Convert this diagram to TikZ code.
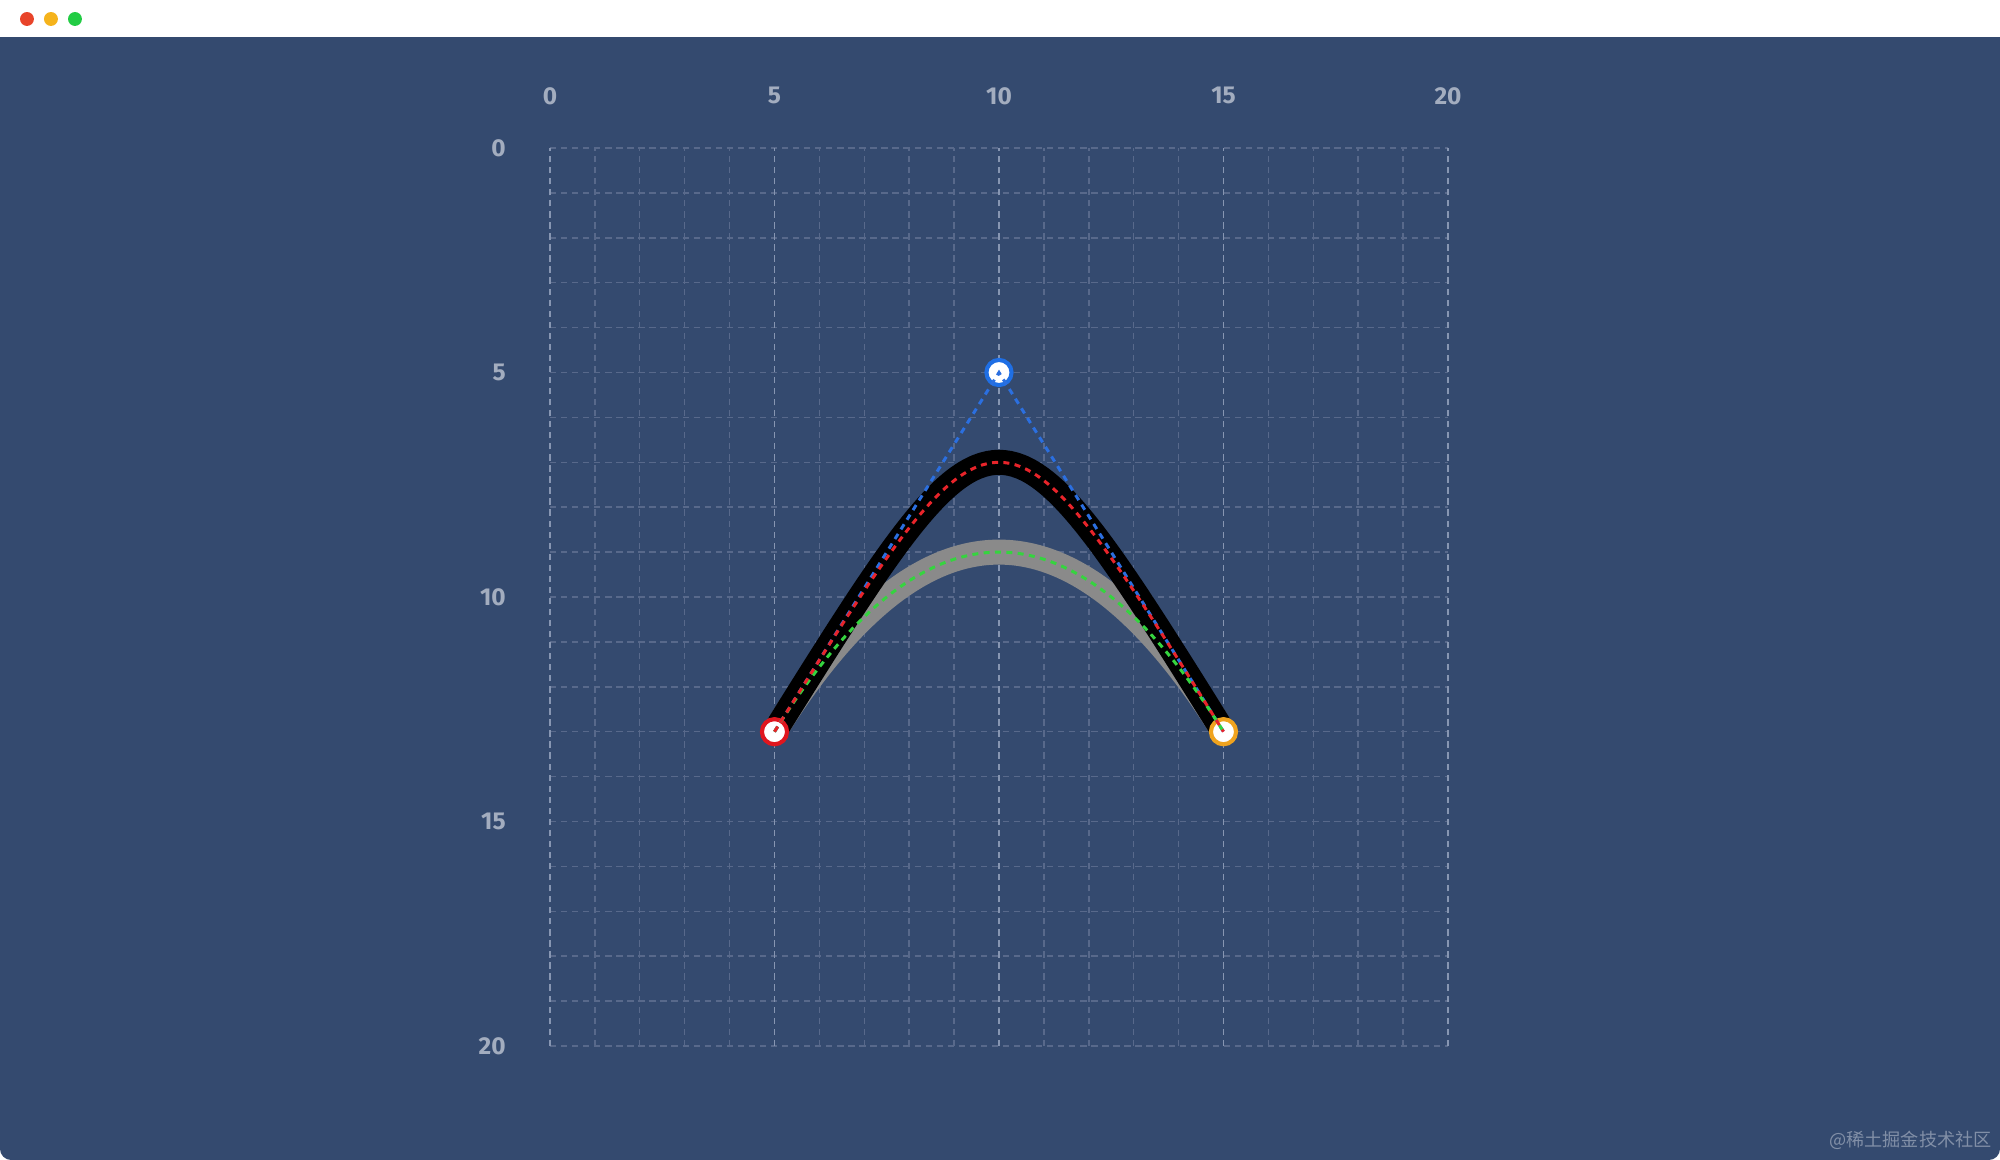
\documentclass[tikz,border=0pt]{standalone}
\usepackage{fontspec}
\setsansfont{Fira Sans}
\newfontfamily\cjk{Noto Sans CJK SC}
\usetikzlibrary{calc}
\definecolor{bgblue}{HTML}{344A6F}
\definecolor{gridminor}{HTML}{58698B}
\definecolor{gridmajor}{HTML}{8796B2}
\definecolor{labelgray}{HTML}{A3ADBF}
\definecolor{ptred}{HTML}{E0161E}
\definecolor{ptblue}{HTML}{1F6FE5}
\definecolor{ptorange}{HTML}{F0A31E}
\definecolor{dashred}{HTML}{E8242A}
\definecolor{dashgreen}{HTML}{35D43F}
\definecolor{dashblue}{HTML}{2B6FE0}
\definecolor{curvegray}{HTML}{8A8A8A}
\definecolor{macred}{HTML}{E8442A}
\definecolor{macyellow}{HTML}{F5B31C}
\definecolor{macgreen}{HTML}{22CC44}
\tikzset{
  gridline/.style={draw=gridminor, line width=0.9pt, dash pattern=on 4pt off 3pt},
  majorline/.style={draw=gridmajor, line width=0.9pt, dash pattern=on 4pt off 3pt},
  axislabel/.style={text=labelgray, font=\sffamily\fontsize{15.5}{18}\selectfont\bfseries, inner sep=0pt},
  thickcurve/.style={line width=0.557cm},
  dashcurve/.style={line width=1.9pt, dash pattern=on 3.8pt off 3.4pt},
  ctrlpoint/.style={circle, line width=2.6pt, fill=white, minimum size=0.56cm, inner sep=0pt},
  macdot/.style={circle, minimum size=0.31cm, inner sep=0pt}
}
\begin{document}
\begin{tikzpicture}[x=1cm, y=-1cm]
\path[use as bounding box, fill=white] (-12.249,-3.296) rectangle (32.294,22.539);
\fill[bgblue, rounded corners=0.25cm] (-12.249,-2.9) rectangle (32.294,22.539);
\fill[white] (-12.249,-3.296) rectangle (32.294,-2.472);
% window buttons
\node[macdot, fill=macred] (btnclose) at (-11.648,-2.873) {};
\node[macdot, fill=macyellow] (btnmin) at (-11.114,-2.873) {};
\node[macdot, fill=macgreen] (btnmax) at (-10.579,-2.873) {};
% grid
\draw[gridline] (0,0) grid (20,20);
\draw[majorline] (0,0) grid[step=5] (20,20);
\foreach \v in {0,5,10,15,20}{
  \node[axislabel] (xl\v) at (\v,-1.16) {\v};
  \node[axislabel, anchor=east] (yl\v) at (-0.98,\v) {\v};
}
% points
\coordinate (p0) at (5,13);
\coordinate (p1) at (10,5);
\coordinate (p2) at (15,13);
\coordinate (q1) at ($(p0)!2/3!(p1)$);
\coordinate (q2) at ($(p2)!2/3!(p1)$);
% curves
\draw[thickcurve, curvegray] (p0) .. controls (q1) and (q2) .. (p2);
\draw[thickcurve, black] (p0) .. controls (p1) and (p1) .. (p2);
\node[ctrlpoint, draw=ptred] (n0) at (p0) {};
\node[ctrlpoint, draw=ptblue] (n1) at (p1) {};
\node[ctrlpoint, draw=ptorange] (n2) at (p2) {};
\draw[dashcurve, dashblue] (p0) -- (p1) -- (p2);
\draw[dashcurve, dashgreen] (p0) .. controls (q1) and (q2) .. (p2);
\draw[dashcurve, dashred] (p0) .. controls (p1) and (p1) .. (p2);
% watermark
\node[anchor=east, text=labelgray, opacity=0.7, font=\cjk\fontsize{11.5}{13}\selectfont, inner sep=0pt] (mark) at (32.116,22.094) {@稀土掘金技术社区};
\end{tikzpicture}
\end{document}
